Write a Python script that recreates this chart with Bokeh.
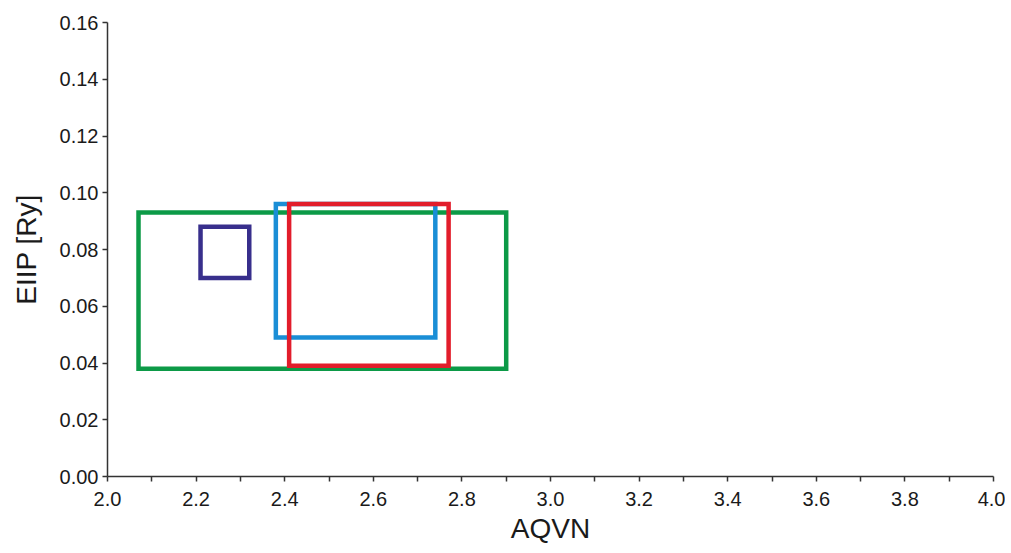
from bokeh.plotting import figure
from bokeh.models import Range1d, FixedTicker, NumeralTickFormatter, ColumnDataSource
from bokeh.embed import file_html
from bokeh.resources import INLINE

# Data: rectangles (AQVN range x EIIP range)
names = ["green", "navy", "blue", "red"]
x_min = [2.07, 2.21, 2.38, 2.41]
x_max = [2.90, 2.32, 2.74, 2.77]
y_min = [0.038, 0.070, 0.049, 0.039]
y_max = [0.093, 0.088, 0.096, 0.096]
colors = ["#0c9a47", "#382f8c", "#1a8ed6", "#e21d2b"]

x_ticks = [2.0, 2.2, 2.4, 2.6, 2.8, 3.0, 3.2, 3.4, 3.6, 3.8, 4.0]
x_minor = [2.1, 2.3, 2.5, 2.7, 2.9, 3.1, 3.3, 3.5, 3.7, 3.9]
y_ticks = [0.0, 0.02, 0.04, 0.06, 0.08, 0.10, 0.12, 0.14, 0.16]

p = figure(width=1005, height=553, output_backend="svg", toolbar_location=None,
           x_range=Range1d(2.0, 4.0), y_range=Range1d(0.0, 0.16),
           min_border_left=107, min_border_top=22, min_border_right=12, min_border_bottom=77)
p.outline_line_color = None
p.xgrid.visible = False
p.ygrid.visible = False
p.background_fill_color = "white"
p.border_fill_color = "white"

src = ColumnDataSource(dict(left=x_min, right=x_max, bottom=y_min, top=y_max, color=colors))
p.quad(left="left", right="right", bottom="bottom", top="top", source=src,
       fill_alpha=0, line_color="color", line_width=4.5, line_join="miter")

font = "Liberation Sans"
for ax in (p.xaxis[0], p.yaxis[0]):
    ax.axis_line_color = "#333333"
    ax.axis_line_width = 1.5
    ax.major_tick_line_color = "#333333"
    ax.major_tick_line_width = 1.5
    ax.minor_tick_line_color = "#333333"
    ax.minor_tick_line_width = 1.5
    ax.major_tick_out = 5
    ax.major_tick_in = 0
    ax.minor_tick_out = 5
    ax.minor_tick_in = 0
    ax.major_label_text_font = font
    ax.major_label_text_font_size = "20px"
    ax.major_label_text_color = "#1a1a1a"
    ax.axis_label_text_font = font
    ax.axis_label_text_font_style = "normal"
    ax.axis_label_text_color = "#1a1a1a"
    ax.axis_label_text_font_size = "28px"

p.xaxis.ticker = FixedTicker(ticks=x_ticks, minor_ticks=x_minor)
p.xaxis.formatter = NumeralTickFormatter(format="0.0")
p.yaxis.ticker = FixedTicker(ticks=y_ticks, minor_ticks=[])
p.yaxis.formatter = NumeralTickFormatter(format="0.00")
p.xaxis.axis_label = "AQVN"
p.yaxis.axis_label = "EIIP [Ry]"
p.xaxis.major_label_standoff = 10
p.xaxis.axis_label_standoff = 4
p.yaxis.major_label_standoff = 4
p.yaxis.axis_label_standoff = 15

open("out.html", "w").write(file_html(p, INLINE))
